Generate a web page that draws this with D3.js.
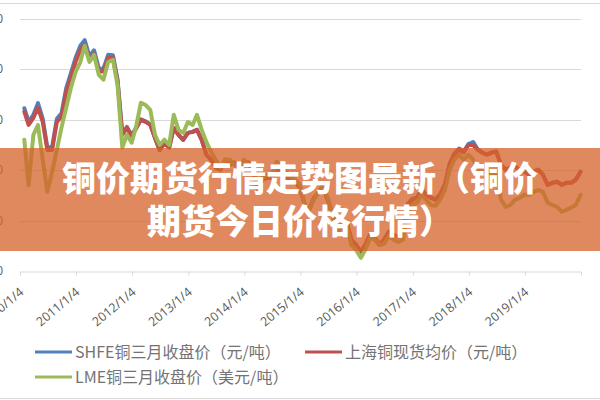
<!DOCTYPE html>
<html><head><meta charset="utf-8">
<script src="https://cdn.jsdelivr.net/npm/d3@7"></script>
<style>
html,body{margin:0;padding:0;background:#fff;}
svg{display:block;}
</style></head>
<body>
<svg id="c" width="600" height="400"></svg>
<script>
// x-axis tick labels (one per year)
const tickLabels = ["2010/1/4","2011/1/4","2012/1/4","2013/1/4","2014/1/4","2015/1/4","2016/1/4","2017/1/4","2018/1/4","2019/1/4"];
// left axis ticks (yuan / ton)
const leftTicks = [30000,40000,50000,60000,70000,80000];

// monthly readings, Jan 2010 .. Dec 2019
const shfe = [
62300,59600,61000,63300,60200,54500,54600,60200,61300,66300,69200,72300,
74700,75800,72600,73800,70200,70100,72900,72800,68000,57300,58600,56900,
58500,60100,59700,59100,56400,54000,55400,54500,58400,57000,56000,57400,
57600,58000,56000,53100,52100,50500,50100,52100,51100,51500,50500,51700,
51500,50100,46100,48100,48500,48500,50500,49700,48500,48100,47700,46500,
43100,42100,44500,45500,46500,44100,41100,38500,39100,39700,36200,35200,
33800,35200,37200,36600,35200,36200,37800,37200,36800,37200,43300,44300,
44600,46200,45200,44600,44200,45200,47200,51300,53300,54300,53700,55200,
55600,54200,53500,53100,53500,53700,51100,50100,50500,50700,50100,49700,
49100,49700,50100,49100,47100,47500,47700,47100,47500,47500,48100,49700];

const spot = [
61600,59000,60400,62400,59600,54000,54000,59600,60600,65600,68400,71500,
73900,74900,71900,73100,69600,69600,72300,72300,67600,57000,58400,56800,
58400,60000,59600,59000,56400,54000,55400,54500,58400,57000,56000,57400,
57600,58000,56000,53100,52100,50500,50100,52100,51100,51500,50500,51700,
51500,50100,46100,48100,48500,48500,50500,49700,48500,48100,47700,46500,
43100,42100,44500,45500,46500,44100,41100,38500,39100,39700,36200,35200,
33800,35200,37200,36600,35200,36200,37800,37200,36800,37200,43100,44100,
44500,46100,45100,44500,44100,45100,47100,51100,53100,54100,53500,55000,
55000,54100,53500,53100,53500,53700,51100,50100,50500,50700,50100,49700,
49100,49700,50100,49100,47100,47500,47700,47100,47500,47500,48100,49700];

const lme = [
7530,6330,7660,7920,7000,6150,6680,7260,7850,8380,8900,9330,
9590,10020,9590,9780,9250,9120,9590,9650,8980,7320,7660,7450,
7920,8510,8450,8320,7660,7390,7530,7390,8190,7790,7710,8000,
7920,8190,7790,7470,7210,7000,6790,7000,7000,6860,6730,7000,
6860,6730,6410,6520,6600,6570,6940,6860,6680,6570,6470,6330,
5800,5670,5940,6150,6330,5990,5540,5090,5200,5250,4740,4610,
4400,4610,4930,4880,4740,4770,4980,4880,4820,4880,5540,5800,
5860,6070,5940,5800,5780,5940,6200,6730,7000,7130,7000,7130,
7000,6790,6680,6680,6600,6680,5940,5750,5800,5940,5990,6070,
6070,6150,6200,6150,5860,5800,5750,5620,5670,5730,5800,6070];

const seriesNames = ["SHFE铜三月收盘价（元/吨）","上海铜现货均价（元/吨）","LME铜三月收盘价（美元/吨）"];
const seriesColors = ["#4F81BD","#C0504D","#9BBB59"];
const titleLines = ["铜价期货行情走势图最新（铜价","期货今日价格行情）"];

const months = d3.timeMonth.range(new Date(2010,0,4), new Date(2020,0,4));
const years = d3.timeYear.range(new Date(2010,0,1), new Date(2020,0,1)).map(d => new Date(d.getFullYear(),0,4));

const svg = d3.select("#c");
const x = d3.scaleTime().domain([new Date(2010,0,4), new Date(2020,0,4)]).range([20, 581]);
const yL = d3.scaleLinear().domain([30000, 80000]).range([271, 19]);
const yR = d3.scaleLinear().domain([4050, 10730]).range([271, 19]);

// frame lines
svg.append("line").attr("x1",0).attr("x2",600).attr("y1",3.5).attr("y2",3.5).attr("stroke","#d9d9d9");
svg.append("line").attr("x1",0).attr("x2",600).attr("y1",398.5).attr("y2",398.5).attr("stroke","#d9d9d9");

// gridlines
svg.append("g").selectAll("line").data(leftTicks.slice(1)).join("line")
  .attr("x1",20).attr("x2",581)
  .attr("y1",d=>Math.round(yL(d))+0.5).attr("y2",d=>Math.round(yL(d))+0.5)
  .attr("stroke","#d9d9d9");

// left axis labels (mostly clipped by the page edge, as in the reference)
svg.append("g").selectAll("text").data(leftTicks).join("text")
  .attr("x",3).attr("y",d=>yL(d)+4).attr("text-anchor","end")
  .attr("font-family","Open Sans, sans-serif").attr("font-size",12).attr("fill","#595959")
  .text(d=>d3.format(",")(d));

// x axis
const xAxis = d3.axisBottom(x).tickValues(years).tickSize(4).tickFormat((d,i)=>tickLabels[i]);
const gx = svg.append("g").attr("transform","translate(0,271.5)").call(xAxis);
gx.select(".domain").attr("stroke","#d9d9d9");
gx.selectAll(".tick line").attr("stroke","#d9d9d9");
gx.selectAll(".tick text")
  .attr("font-family","Open Sans, sans-serif").attr("font-size",12.5).attr("fill","#595959")
  .attr("text-anchor","end").attr("dy",0).attr("y",0)
  .attr("transform","translate(4,22) rotate(-40)");

// lines
const lineL = d3.line().x((d,i)=>x(months[i])).y(d=>yL(d));
const lineR = d3.line().x((d,i)=>x(months[i])).y(d=>yR(d));
const pathAttrs = p => p.attr("fill","none").attr("stroke-width",4).attr("stroke-linejoin","round").attr("stroke-linecap","round");
svg.append("path").datum(shfe).attr("d",lineL).attr("stroke",seriesColors[0]).call(pathAttrs);
svg.append("path").datum(spot).attr("d",lineL).attr("stroke",seriesColors[1]).call(pathAttrs);
svg.append("path").datum(lme).attr("d",lineR).attr("stroke",seriesColors[2]).call(pathAttrs);

// legend
const legend = [
  {i:0, x:35, y:352},
  {i:1, x:305, y:352},
  {i:2, x:35, y:377}
];
const lg = svg.append("g");
legend.forEach(l=>{
  lg.append("line").attr("x1",l.x).attr("x2",l.x+37).attr("y1",l.y).attr("y2",l.y)
    .attr("stroke",seriesColors[l.i]).attr("stroke-width",3);
  lg.append("text").attr("x",l.x+40).attr("y",l.y+5.5)
    .attr("font-family","Noto Sans CJK SC, sans-serif").attr("font-size",16).attr("fill","#737373")
    .text(seriesNames[l.i]);
});

// banner
svg.append("rect").attr("x",0).attr("y",148).attr("width",600).attr("height",103)
  .attr("fill","rgb(214,98,44)").attr("fill-opacity",0.76);
svg.append("g").selectAll("text").data(titleLines).join("text")
  .attr("x",300).attr("y",(d,i)=>i===0?191:234).attr("text-anchor","middle")
  .attr("font-family","Noto Sans CJK SC, sans-serif").attr("font-weight",900).attr("font-size",34)
  .attr("fill","#ffffff")
  .text(d=>d);
</script>
</body></html>
